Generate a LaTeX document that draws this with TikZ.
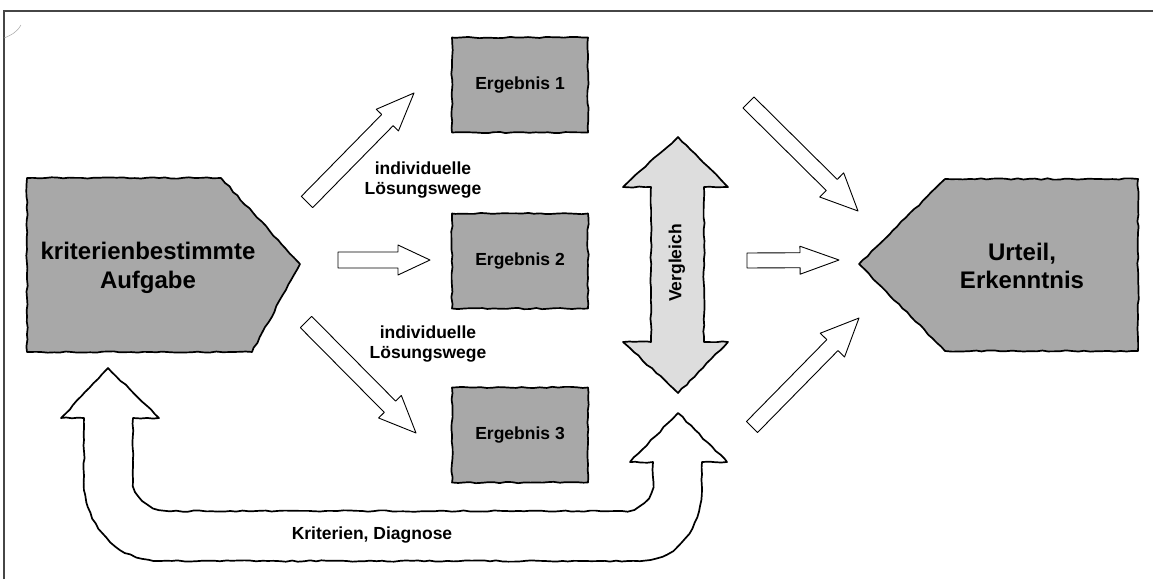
\documentclass[tikz,border=0pt]{standalone}
\usepackage{fontspec}
\setmainfont{Liberation Sans}
\usetikzlibrary{calc,decorations.pathmorphing}
\newcommand\harrow[6]{%
  \coordinate (#6-t) at (#1);
  \coordinate (#6-p) at (#2);
  \coordinate (#6-h) at ($(#6-p)!#5!(#6-t)$);
  \draw[thinarrow] ($(#6-t)!#3!90:(#6-p)$) -- ($(#6-h)!#3!90:(#6-p)$) -- ($(#6-h)!#4!90:(#6-p)$) -- (#6-p)
    -- ($(#6-h)!#4!-90:(#6-p)$) -- ($(#6-h)!#3!-90:(#6-p)$) -- ($(#6-t)!#3!-90:(#6-p)$) -- cycle;
}
\begin{document}
\pgfmathsetseed{7}
\begin{tikzpicture}[x=1pt,y=-1pt,
  wobbly/.style={decorate,decoration={random steps,segment length=6pt,amplitude=0.7pt}},
  thickshape/.style={draw=black,line width=1.7pt,line join=round,wobbly},
  graybox/.style={thickshape,fill=boxgray},
  ergbox/.style={graybox,minimum width=136pt,minimum height=95pt,inner sep=0pt,
    font=\fontsize{17.5}{21}\selectfont\bfseries},
  thinarrow/.style={draw=black,fill=white,line width=0.9pt,line join=round},
  bigtext/.style={font=\fontsize{24}{28.5}\selectfont\bfseries,align=center,inner sep=0pt},
  smalltext/.style={font=\fontsize{17.5}{20.5}\selectfont\bfseries,align=center,inner sep=0pt}]
\definecolor{boxgray}{RGB}{168,168,168}
\definecolor{lightgray2}{RGB}{221,221,221}
\definecolor{framegray}{RGB}{70,70,70}
\useasboundingbox (0,0) rectangle (1153,579);
\fill[white] (0,0) rectangle (1153,579);
% frame
\draw[framegray,line width=1.6pt] (4,579) -- (4,11) -- (1153,11);
\draw[gray!70,line width=0.5pt] (4,38) .. controls (12,35) and (18,31) .. (21,25);
% left pentagon
\draw[graybox] (27,178) -- (221,178) -- (300,264) -- (252,352) -- (27,352) -- cycle;
\node[bigtext] (aufgabe) at (148,268) {kriterienbestimmte\\Aufgabe};
% right pentagon
\draw[graybox] (945,179) -- (1138,179) -- (1138,351) -- (945,351) -- (859,264) -- cycle;
\node[bigtext] (urteil) at (1022,266) {Urteil,\\Erkenntnis};
% Ergebnis boxes
\node[ergbox] (e1) at (520,85) {Ergebnis 1};
\node[ergbox] (e2) at (520,261) {Ergebnis 2};
\node[ergbox] (e3) at (520,435) {Ergebnis 3};
% labels
\node[smalltext] (lw1) at (423,180) {individuelle\\Lösungswege};
\node[smalltext] (lw2) at (428,344) {individuelle\\Lösungswege};
% Vergleich double arrow
\draw[thickshape,fill=lightgray2] (678,137) -- (728,187) -- (704,187) -- (704,342) -- (728,342)
  -- (678,393) -- (623,342) -- (651,342) -- (651,187) -- (623,187) -- cycle;
\node[smalltext,rotate=90] (vgl) at (677,263) {Vergleich};
% U-shaped feedback arrow
\draw[thickshape,fill=white] (61,418) -- (108,368) -- (159,418) -- (133,418) -- (133,480)
  to[out=-90,in=180] (170,511) -- (622,511) to[out=0,in=-90] (653,482) -- (653,462) -- (630,462)
  -- (678,413) -- (727,462) -- (702,462) -- (702,488) to[out=-90,in=0] (640,561)
  -- (160,561) to[out=180,in=-90] (84,482) -- (84,418) -- cycle;
\node[smalltext] (krit) at (372,535) {Kriterien, Diagnose};
% hollow arrows
\harrow{307,202}{414,93}{8pt}{15.5pt}{38pt}{a1}
\harrow{338,260}{430,260}{8pt}{15pt}{32pt}{a2}
\harrow{306,322}{416,433}{8pt}{16pt}{37pt}{a3}
\harrow{748.5,102.5}{858,211}{7.8pt}{17pt}{37pt}{a4}
\harrow{747,260.5}{839,260}{7.5pt}{14pt}{39pt}{a5}
\harrow{752,427}{859,318}{7.8pt}{17pt}{38pt}{a6}
\end{tikzpicture}
\end{document}
